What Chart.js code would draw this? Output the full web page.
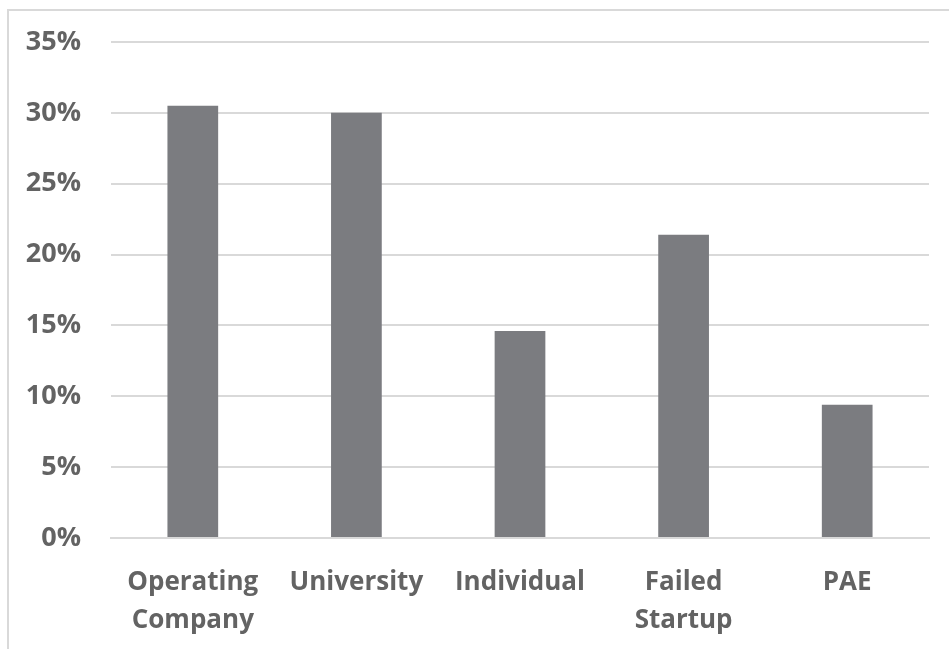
<!DOCTYPE html>
<html>
<head>
<meta charset="utf-8">
<script src="https://cdn.jsdelivr.net/npm/chart.js@4"></script>
<style>
  html, body { margin: 0; padding: 0; background: #fff; }
  #wrap { position: relative; width: 949px; height: 649px; overflow: hidden; }
  #frame {
    position: absolute; left: 7px; top: 9px; width: 1000px; height: 700px;
    border-left: 2px solid #d9d9d9; border-top: 2px solid #d9d9d9;
  }
  #chart { position: absolute; left: 0; top: 0; }
</style>
</head>
<body>
<div id="wrap">
  <div id="frame"></div>
  <canvas id="chart" width="949" height="649"></canvas>
</div>
<script>
// --- Données ---
const categories = [["Operating", "Company"], "University", "Individual", ["Failed", "Startup"], "PAE"];
const shares = [30.5, 30.0, 14.6, 21.4, 9.4];   // % par origine
const yTicks = [0, 5, 10, 15, 20, 25, 30, 35];

const TEXT = "#636363";
const GRID = "#d9d9d9";

new Chart(document.getElementById("chart"), {
  type: "bar",
  data: {
    labels: categories,
    datasets: [{
      data: shares,
      backgroundColor: "#7b7c80",
      categoryPercentage: 1,
      barPercentage: 0.31
    }]
  },
  options: {
    responsive: false,
    animation: false,
    layout: { padding: { top: 42, right: 20, left: 0, bottom: 0 } },
    plugins: { legend: { display: false }, tooltip: { enabled: false } },
    scales: {
      x: {
        grid: { display: false },
        border: { color: GRID, width: 2 },
        ticks: {
          color: TEXT,
          padding: 18,
          maxRotation: 0,
          autoSkip: false,
          font: { family: "'Open Sans', sans-serif", size: 26, weight: "bold", lineHeight: 1.45 }
        },
        afterFit: (s) => { s.height = 111; }
      },
      y: {
        min: 0,
        max: 35,
        afterBuildTicks: (s) => { s.ticks = yTicks.map(v => ({ value: v })); },
        grid: { color: GRID, lineWidth: 2, drawTicks: false },
        border: { display: false },
        ticks: {
          color: TEXT,
          padding: 30,
          callback: (v) => v + "%",
          font: { family: "'Open Sans', sans-serif", size: 27, weight: "bold" }
        },
        afterFit: (s) => { s.width = 111; s.paddingTop = 0; s.paddingBottom = 0; }
      }
    }
  }
});
</script>
</body>
</html>
